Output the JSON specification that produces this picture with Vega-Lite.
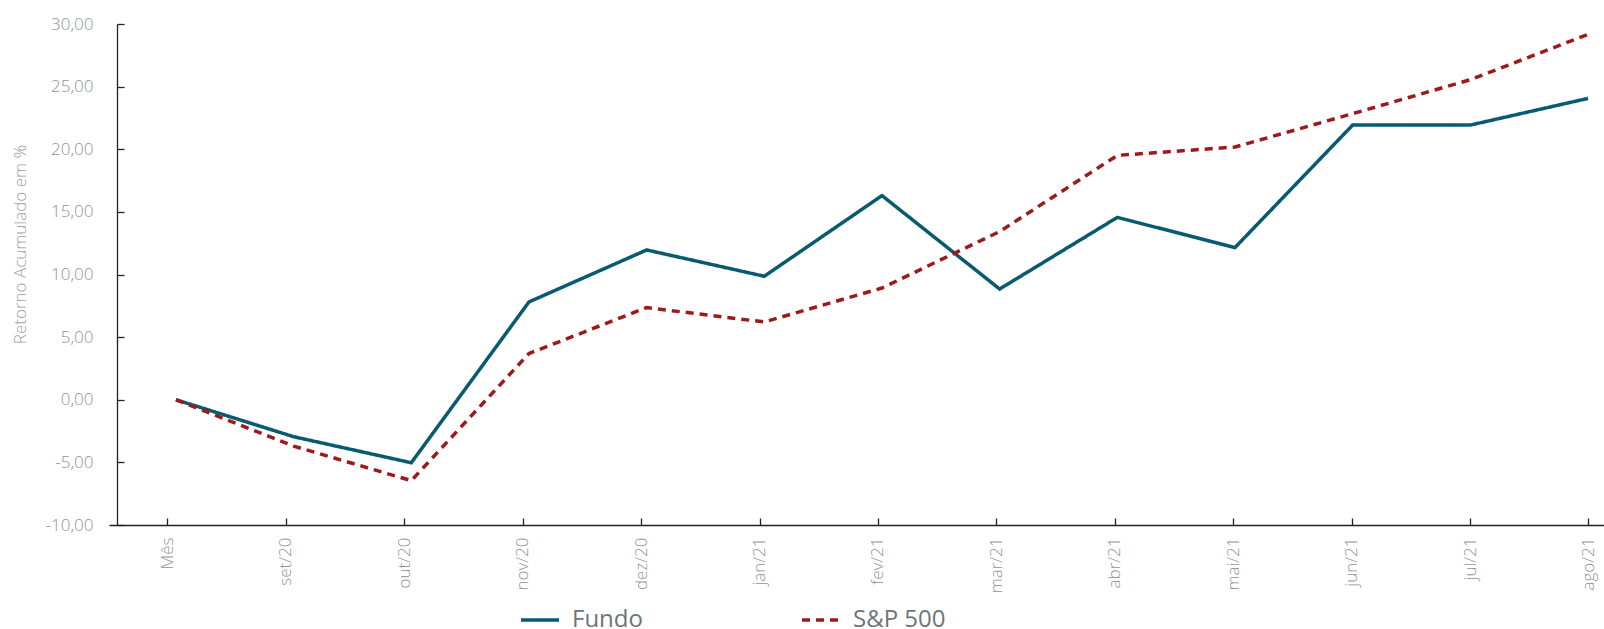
{
  "$schema": "https://vega.github.io/schema/vega-lite/v6.json",
  "width": 1495,
  "height": 501,
  "autosize": {"type": "none"},
  "padding": {"left": 109, "top": 24, "right": 0, "bottom": 104},
  "background": "white",
  "config": {
    "font": "Open Sans",
    "view": {"stroke": null}
  },
  "data": {
    "values": [
      {"mes": "Mês", "serie": "Fundo", "valor": 0},
      {"mes": "set/20", "serie": "Fundo", "valor": -2.95},
      {"mes": "out/20", "serie": "Fundo", "valor": -5.03},
      {"mes": "nov/20", "serie": "Fundo", "valor": 7.81},
      {"mes": "dez/20", "serie": "Fundo", "valor": 11.96},
      {"mes": "jan/21", "serie": "Fundo", "valor": 9.86},
      {"mes": "fev/21", "serie": "Fundo", "valor": 16.3},
      {"mes": "mar/21", "serie": "Fundo", "valor": 8.84},
      {"mes": "abr/21", "serie": "Fundo", "valor": 14.56},
      {"mes": "mai/21", "serie": "Fundo", "valor": 12.15},
      {"mes": "jun/21", "serie": "Fundo", "valor": 21.93},
      {"mes": "jul/21", "serie": "Fundo", "valor": 21.93},
      {"mes": "ago/21", "serie": "Fundo", "valor": 24.06},
      {"mes": "Mês", "serie": "S&P 500", "valor": 0},
      {"mes": "set/20", "serie": "S&P 500", "valor": -3.7},
      {"mes": "out/20", "serie": "S&P 500", "valor": -6.46},
      {"mes": "nov/20", "serie": "S&P 500", "valor": 3.69},
      {"mes": "dez/20", "serie": "S&P 500", "valor": 7.36},
      {"mes": "jan/21", "serie": "S&P 500", "valor": 6.21},
      {"mes": "fev/21", "serie": "S&P 500", "valor": 8.92},
      {"mes": "mar/21", "serie": "S&P 500", "valor": 13.43},
      {"mes": "abr/21", "serie": "S&P 500", "valor": 19.51},
      {"mes": "mai/21", "serie": "S&P 500", "valor": 20.18},
      {"mes": "jun/21", "serie": "S&P 500", "valor": 22.84},
      {"mes": "jul/21", "serie": "S&P 500", "valor": 25.55},
      {"mes": "ago/21", "serie": "S&P 500", "valor": 29.17}
    ]
  },
  "layer": [
    {
      "mark": {"type": "line", "strokeWidth": 3.5, "strokeCap": "butt"},
      "encoding": {
        "x": {
          "field": "mes", "type": "ordinal", "sort": null,
          "scale": {"type": "point", "padding": 0.3526, "align": 0.807},
          "axis": null
        },
        "y": {
          "field": "valor", "type": "quantitative",
          "scale": {"domain": [-10, 30], "nice": false, "zero": false},
          "axis": {
            "title": "Retorno Acumulado em %",
            "values": [-10, -5, 0, 5, 10, 15, 20, 25, 30],
            "labelExpr": "replace(replace(format(datum.value, '.2f'), '.', ','), '\u2212', '-')",
            "grid": false,
            "offset": -8,
            "domainColor": "#222222",
            "domainWidth": 1.3,
            "tickColor": "#222222",
            "tickWidth": 1.3,
            "tickSize": -7,
            "labelPadding": 31,
            "labelFontSize": 17,
            "labelFontWeight": 300,
            "labelColor": "#8e9497",
            "titleFontSize": 17,
            "titleFontWeight": 300,
            "titleColor": "#9ca1a4",
            "titleX": -97,
            "titleY": 220,
            "titleBaseline": "middle",
            "titleAngle": -90
          }
        },
        "color": {
          "field": "serie", "type": "nominal",
          "scale": {"domain": ["Fundo", "S&P 500"], "range": ["#075a70", "#9e1a1a"]},
          "legend": {
            "title": null,
            "orient": "none",
            "direction": "horizontal",
            "legendX": 410,
            "legendY": 575,
            "padding": 0,
            "symbolType": "stroke",
            "symbolSize": 1444,
            "symbolStrokeWidth": 3.5,
            "labelFontSize": 24,
            "labelColor": "#6d7578",
            "labelOffset": 11,
            "columnPadding": 152
          }
        },
        "strokeDash": {
          "field": "serie", "type": "nominal",
          "scale": {"domain": ["Fundo", "S&P 500"], "range": [[1, 0], [8, 6]]},
          "legend": {
            "title": null,
            "orient": "none",
            "direction": "horizontal",
            "legendX": 410,
            "legendY": 575,
            "padding": 0,
            "symbolType": "stroke",
            "symbolSize": 1444,
            "symbolStrokeWidth": 3.5,
            "labelFontSize": 24,
            "labelColor": "#6d7578",
            "labelOffset": 11,
            "columnPadding": 152
          }
        }
      }
    },
    {
      "mark": {"type": "point", "opacity": 0},
      "encoding": {
        "x": {
          "field": "mes", "type": "ordinal", "sort": null,
          "scale": {"type": "point", "padding": 0.3125, "align": 0.79},
          "axis": {
            "title": null,
            "orient": "bottom",
            "labelAngle": -90,
            "domainColor": "#222222",
            "domainWidth": 1.5,
            "tickColor": "#222222",
            "tickWidth": 1.3,
            "tickSize": -7,
            "labelPadding": 19,
            "labelFontSize": 17,
            "labelFontWeight": 300,
            "labelColor": "#8e9497"
          }
        },
        "y": {"field": "valor", "type": "quantitative"}
      }
    }
  ],
  "resolve": {"scale": {"x": "independent"}}
}
